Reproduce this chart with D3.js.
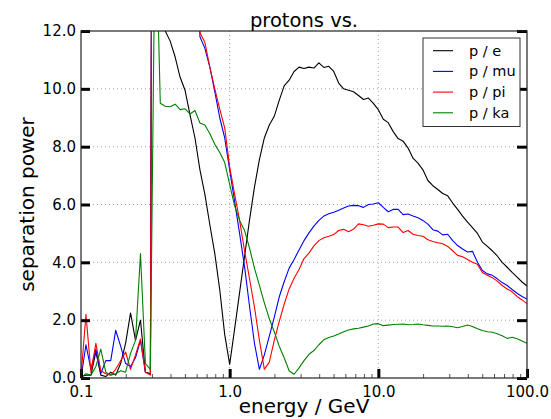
<!DOCTYPE html>
<html>
<head>
<meta charset="utf-8">
<script src="https://cdn.jsdelivr.net/npm/d3@7/dist/d3.min.js"></script>
<style>
  html, body { margin: 0; padding: 0; background: #fff; }
  svg { display: block; font-family: "DejaVu Sans", sans-serif; }
</style>
</head>
<body>
<svg id="chart" width="551" height="419"></svg>
<script>
// ---- data ----
const energies = [
  0.1, 0.108, 0.1166, 0.1259, 0.1359, 0.1468, 0.1585, 0.1711, 0.1848, 0.1995,
  0.2154, 0.2326, 0.2512, 0.2712, 0.2929, 0.3162, 0.3415, 0.3687, 0.3981, 0.4299,
  0.4642, 0.5012, 0.5412, 0.5843, 0.631, 0.6813, 0.7356, 0.7943, 0.8577, 0.9261,
  1.0, 1.08, 1.166, 1.259, 1.359, 1.468, 1.585, 1.711, 1.848, 1.995,
  2.154, 2.326, 2.512, 2.712, 2.929, 3.162, 3.415, 3.687, 3.981, 4.299,
  4.642, 5.012, 5.412, 5.843, 6.31, 6.813, 7.356, 7.943, 8.577, 9.261,
  10.0, 10.8, 11.66, 12.59, 13.59, 14.68, 15.85, 17.11, 18.48, 19.95,
  21.54, 23.26, 25.12, 27.12, 29.29, 31.62, 34.15, 36.87, 39.81, 42.99,
  46.42, 50.12, 54.12, 58.43, 63.1, 68.13, 73.56, 79.43, 85.77, 92.61,
  100
];
const pE = [
  0.05, 0.1, 0.1, 0.9, 0.1, 0.05, 0.2, 0.1, 0.5, 1.2,
  2.25, 1.3, 2.0, 0.2, 0.15, 60, 14, 12.0, 11.65, 11.1,
  10.4, 9.95, 9.1, 8.3, 7.2, 6.35, 5.3, 4.3, 3.05, 1.5,
  0.47, 1.7, 2.95, 4.2, 5.45, 6.6, 7.55, 8.3, 8.75, 9.05,
  9.6, 10.1, 10.3, 10.6, 10.75, 10.7, 10.75, 10.72, 10.9, 10.74,
  10.78, 10.6, 10.2, 10.0, 9.95, 9.9, 9.77, 9.63, 9.68, 9.5,
  9.28, 8.95, 8.83, 8.52, 8.28, 8.19, 7.95, 7.6, 7.43, 7.2,
  6.83, 6.65, 6.52, 6.38, 6.3, 6.05, 5.83, 5.6, 5.39, 5.2,
  5.0, 4.7, 4.55, 4.4, 4.22, 4.0, 3.83, 3.65, 3.49, 3.32,
  3.18
];
const pMu = [
  0.0, 1.15, 0.3, 1.0, 0.15, 0.6, 0.6, 1.65, 1.1, 0.5,
  0.4, 0.7, 1.3, 0.2, 0.15, 60, 40, 40, 40, 40,
  40, 40, 30, 20, 11.8, 11.4, 10.75, 9.9, 9.0, 8.3,
  7.2, 6.1, 5.0, 3.85, 2.5, 1.2, 0.3, 0.8, 1.45, 2.1,
  2.8, 3.33, 3.8, 4.1, 4.43, 4.75, 5.02, 5.25, 5.45, 5.6,
  5.68, 5.73, 5.8, 5.88, 5.95, 5.97, 5.96, 5.9, 6.0, 6.02,
  6.06, 5.9, 5.75, 5.83, 5.83, 5.65, 5.67, 5.6, 5.54, 5.45,
  5.32, 5.13, 5.08, 4.95, 4.97, 4.75, 4.58, 4.46, 4.36, 4.38,
  4.0, 3.72, 3.6, 3.55, 3.43, 3.3, 3.2, 3.06, 2.93, 2.82,
  2.73
];
const pPi = [
  0.05, 2.2, 0.2, 1.2, 0.25, 0.15, 0.1, 0.3, 0.6, 0.9,
  0.3, 0.8, 1.35, 0.2, 0.1, 60, 40, 40, 40, 40,
  40, 40, 30, 20, 11.95, 11.6, 10.75, 10.0, 9.3, 8.65,
  7.3, 6.35, 5.45, 4.4, 3.45, 2.45, 1.3, 0.3, 0.55, 1.3,
  1.95, 2.55, 3.08, 3.45, 3.75, 4.13, 4.32, 4.57, 4.75, 4.85,
  4.9, 4.96, 5.1, 5.14, 5.06, 5.15, 5.33, 5.3, 5.25, 5.28,
  5.33, 5.32, 5.2, 5.22, 5.22, 5.03, 5.1, 4.97, 4.93, 4.9,
  4.78, 4.72, 4.68, 4.64, 4.55, 4.4, 4.24, 4.19, 4.1, 4.0,
  3.93, 3.65, 3.55, 3.47, 3.35, 3.2, 3.08, 2.98, 2.82, 2.7,
  2.57
];
const pKa = [
  0.0, 0.15, 0.1, 0.4, 1.0, 0.2, 0.1, 0.15, 0.25, 0.2,
  0.85, 1.3, 4.3, 0.5, 0.3, 16.5, 9.5, 9.4, 9.38, 9.47,
  9.28, 9.31, 9.13, 9.25, 8.82, 8.75, 8.45, 8.08, 7.8, 7.45,
  6.7, 5.95, 5.45, 5.1, 4.5, 3.8, 3.2, 2.6, 2.05, 1.6,
  1.1, 0.7, 0.25, 0.13, 0.35, 0.6, 0.82, 0.95, 1.15, 1.32,
  1.4, 1.45, 1.52, 1.6, 1.66, 1.7, 1.72, 1.76, 1.8, 1.87,
  1.88, 1.81, 1.83, 1.85, 1.86, 1.87, 1.84, 1.85, 1.87, 1.84,
  1.82, 1.8, 1.8, 1.79, 1.8, 1.77, 1.74, 1.78, 1.83, 1.78,
  1.7, 1.64, 1.6, 1.58, 1.53, 1.46, 1.37, 1.41, 1.36, 1.28,
  1.2
];
const seriesNames = ["p / e", "p / mu", "p / pi", "p / ka"];
const seriesColors = ["#000000", "#0000ff", "#ff0000", "#008000"];
const seriesValues = [pE, pMu, pPi, pKa];
const xTickValues = [0.1, 1, 10, 100];
const xTickLabels = ["0.1", "1.0", "10.0", "100.0"];
const xMinorTicks = [0.2,0.3,0.4,0.5,0.6,0.7,0.8,0.9,2,3,4,5,6,7,8,9,20,30,40,50,60,70,80,90];
const yTickValues = [0, 2, 4, 6, 8, 10, 12];
const titleText = "protons vs.";
const xLabelText = "energy / GeV";
const yLabelText = "separation power";

// ---- layout ----
const L = 81, R = 527, T = 31, B = 378;
const svg = d3.select("#chart");
const x = d3.scaleLog().domain([0.1, 100]).range([L, R]);
const y = d3.scaleLinear().domain([0, 12]).range([B, T]);

// grid
const grid = svg.append("g").attr("stroke", "#8c8c8c").attr("stroke-width", 0.8)
  .attr("stroke-dasharray", "1,3");
grid.selectAll("line.h").data(yTickValues.filter(v => v > 0 && v < 12)).join("line")
  .attr("x1", L).attr("x2", R).attr("y1", d => y(d)).attr("y2", d => y(d));
grid.selectAll("line.v").data(xTickValues.filter(v => v > 0.1 && v < 100)).join("line")
  .attr("y1", T).attr("y2", B).attr("x1", d => x(d)).attr("x2", d => x(d));

// clip
svg.append("clipPath").attr("id", "clip").append("rect")
  .attr("x", L).attr("y", T).attr("width", R - L).attr("height", B - T);

const line = d3.line().x(d => x(d[0])).y(d => y(d[1]));
const plot = svg.append("g").attr("clip-path", "url(#clip)");
seriesValues.forEach((vals, i) => {
  const pts = energies.map((e, j) => [e, vals[j]]);
  plot.append("path").datum(pts)
    .attr("fill", "none").attr("stroke", seriesColors[i])
    .attr("stroke-width", 1.1).attr("stroke-linejoin", "round")
    .attr("d", line);
});

// axes
const fmtX = d => xTickLabels[xTickValues.indexOf(d)];
const axB = svg.append("g").attr("transform", `translate(0,${B})`)
  .call(d3.axisBottom(x).tickValues(xTickValues).tickFormat(fmtX)
    .tickSizeInner(-9).tickSizeOuter(0).tickPadding(8));
const axBm = svg.append("g").attr("transform", `translate(0,${B})`)
  .call(d3.axisBottom(x).tickValues(xMinorTicks).tickFormat("")
    .tickSizeInner(-4).tickSizeOuter(0));
const axL = svg.append("g").attr("transform", `translate(${L},0)`)
  .call(d3.axisLeft(y).tickValues(yTickValues).tickFormat(d3.format(".1f"))
    .tickSizeInner(-9).tickSizeOuter(0).tickPadding(5));
const axR = svg.append("g").attr("transform", `translate(${R},0)`)
  .call(d3.axisRight(y).tickValues(yTickValues).tickFormat("")
    .tickSizeInner(-10).tickSizeOuter(0));

[axB, axL, axR, axBm].forEach(g => {
  g.select(".domain").remove();
  g.selectAll("text").attr("font-family", "DejaVu Sans, sans-serif")
    .attr("font-size", 15).attr("fill", "#000");
});
[axB, axL, axR].forEach(g => g.selectAll(".tick line").attr("stroke", "#000").attr("stroke-width", 3));
axBm.selectAll(".tick line").attr("stroke", "#555").attr("stroke-width", 1);

// frame
svg.append("rect").attr("x", L).attr("y", T).attr("width", R - L).attr("height", B - T)
  .attr("fill", "none").attr("stroke", "#222").attr("stroke-width", 1.2);

// title & labels
svg.append("text").attr("x", (L + R) / 2).attr("y", 27).attr("text-anchor", "middle")
  .attr("font-size", 19.5).text(titleText);
svg.append("text").attr("x", (L + R) / 2).attr("y", 413).attr("text-anchor", "middle")
  .attr("font-size", 20).text(xLabelText);
svg.append("text").attr("transform", `translate(34,${(T + B) / 2}) rotate(-90)`)
  .attr("text-anchor", "middle").attr("font-size", 20).text(yLabelText);

// legend
const lg = svg.append("g");
lg.append("rect").attr("x", 423).attr("y", 38).attr("width", 97).attr("height", 88.5)
  .attr("fill", "#fff").attr("stroke", "#333").attr("stroke-width", 1);
seriesNames.forEach((n, i) => {
  const yy = 50.7 + i * 20.7;
  lg.append("line").attr("x1", 433).attr("x2", 453).attr("y1", yy).attr("y2", yy)
    .attr("stroke", seriesColors[i]).attr("stroke-width", 1.1);
  lg.append("text").attr("x", 469).attr("y", yy).attr("dy", "0.35em")
    .attr("font-size", 14.5).text(n);
});
</script>
</body>
</html>
